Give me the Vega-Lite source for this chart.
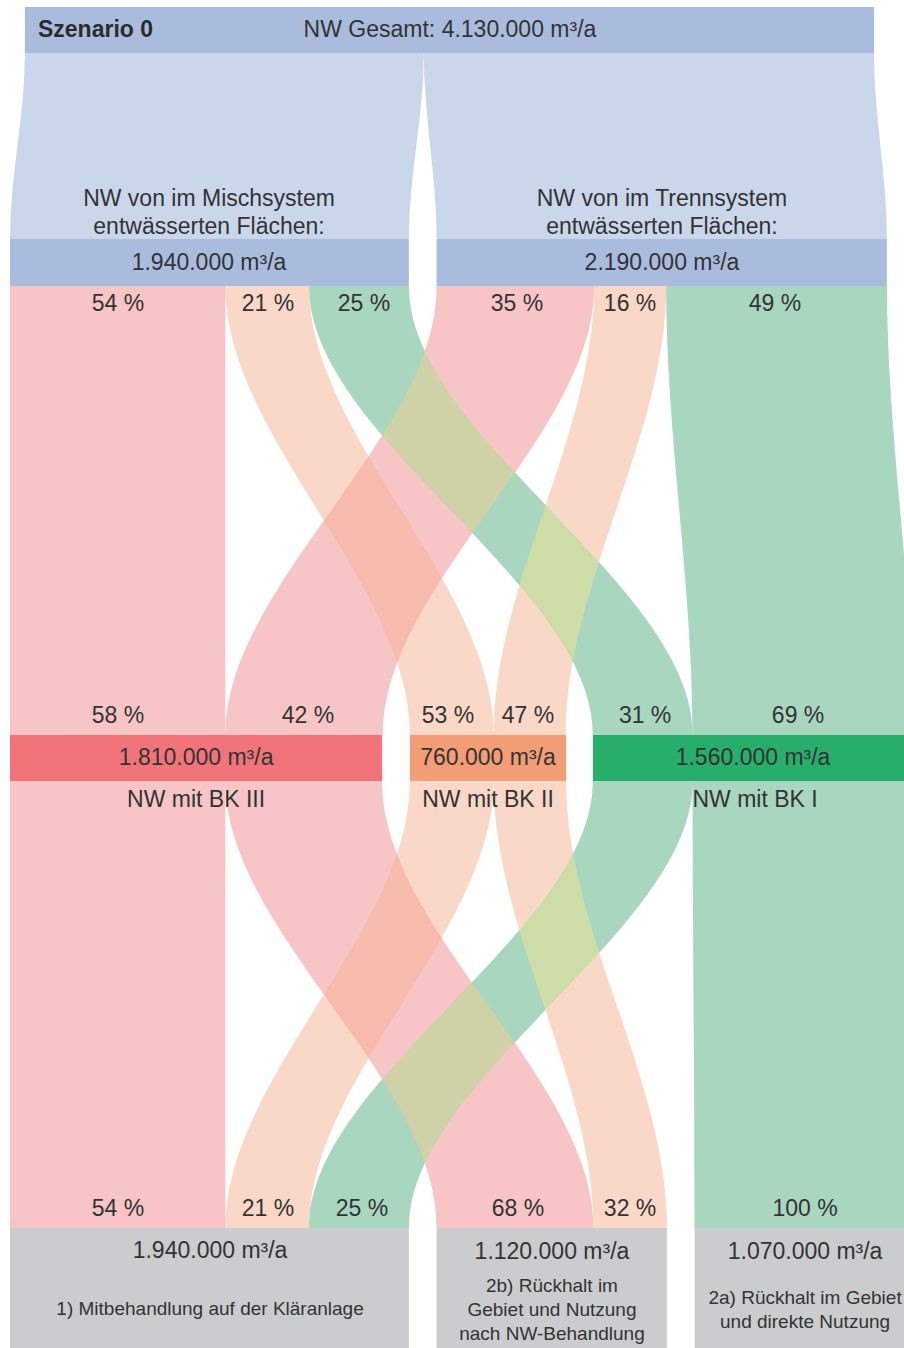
{
  "$schema": "https://vega.github.io/schema/vega-lite/v6.json",
  "width": 904,
  "height": 1348,
  "autosize": {"type": "fit", "contains": "padding"},
  "padding": 0,
  "background": "white",
  "config": {"view": {"stroke": null}},
  "datasets": {
    "zufluss": [
      {"flow": "Misch", "y": 53, "xl": 0.0725, "xr": 2.0125},
      {"flow": "Misch", "y": 54, "xl": 0.0725, "xr": 2.0125},
      {"flow": "Misch", "y": 238, "xl": 0, "xr": 1.94},
      {"flow": "Misch", "y": 239, "xl": 0, "xr": 1.94},
      {"flow": "Trenn", "y": 53, "xl": 2.0125, "xr": 4.2025},
      {"flow": "Trenn", "y": 54, "xl": 2.0125, "xr": 4.2025},
      {"flow": "Trenn", "y": 238, "xl": 2.075, "xr": 4.265},
      {"flow": "Trenn", "y": 239, "xl": 2.075, "xr": 4.265}
    ],
    "nodes": [
      {"node": "Gesamt", "kat": "blau", "x0": 0.0725, "x1": 4.2025, "y0": 7, "y1": 53},
      {"node": "Misch", "kat": "blau", "x0": 0, "x1": 1.94, "y0": 239, "y1": 286},
      {"node": "Trenn", "kat": "blau", "x0": 2.075, "x1": 4.265, "y0": 239, "y1": 286},
      {"node": "BK III", "kat": "rot", "x0": 0, "x1": 1.81, "y0": 735, "y1": 781},
      {"node": "BK II", "kat": "orange", "x0": 1.945, "x1": 2.705, "y0": 735, "y1": 781},
      {"node": "BK I", "kat": "gruen", "x0": 2.835, "x1": 4.395, "y0": 735, "y1": 781},
      {"node": "1", "kat": "grau", "x0": 0, "x1": 1.94, "y0": 1228, "y1": 1348},
      {"node": "2b", "kat": "grau", "x0": 2.075, "x1": 3.195, "y0": 1228, "y1": 1348},
      {"node": "2a", "kat": "grau", "x0": 3.33, "x1": 4.4, "y0": 1228, "y1": 1348}
    ],
    "flows": [
      {"flow": "F1", "kat": "rot", "y": 286, "xl": 0, "xr": 1.0476},
      {"flow": "F1", "kat": "rot", "y": 735, "xl": 0, "xr": 1.0476},
      {"flow": "F2", "kat": "orange", "y": 286, "xl": 1.0476, "xr": 1.455},
      {"flow": "F2", "kat": "orange", "y": 287, "xl": 1.0476, "xr": 1.455},
      {"flow": "F2", "kat": "orange", "y": 734, "xl": 1.945, "xr": 2.3524},
      {"flow": "F2", "kat": "orange", "y": 735, "xl": 1.945, "xr": 2.3524},
      {"flow": "F3", "kat": "gruen", "y": 286, "xl": 1.455, "xr": 1.94},
      {"flow": "F3", "kat": "gruen", "y": 287, "xl": 1.455, "xr": 1.94},
      {"flow": "F3", "kat": "gruen", "y": 734, "xl": 2.835, "xr": 3.32},
      {"flow": "F3", "kat": "gruen", "y": 735, "xl": 2.835, "xr": 3.32},
      {"flow": "F4", "kat": "rot", "y": 286, "xl": 2.075, "xr": 2.8415},
      {"flow": "F4", "kat": "rot", "y": 287, "xl": 2.075, "xr": 2.8415},
      {"flow": "F4", "kat": "rot", "y": 734, "xl": 1.0476, "xr": 1.8141},
      {"flow": "F4", "kat": "rot", "y": 735, "xl": 1.0476, "xr": 1.8141},
      {"flow": "F5", "kat": "orange", "y": 286, "xl": 2.8415, "xr": 3.1919},
      {"flow": "F5", "kat": "orange", "y": 287, "xl": 2.8415, "xr": 3.1919},
      {"flow": "F5", "kat": "orange", "y": 734, "xl": 2.3524, "xr": 2.7028},
      {"flow": "F5", "kat": "orange", "y": 735, "xl": 2.3524, "xr": 2.7028},
      {"flow": "F6", "kat": "gruen", "y": 286, "xl": 3.1919, "xr": 4.265},
      {"flow": "F6", "kat": "gruen", "y": 287, "xl": 3.1919, "xr": 4.265},
      {"flow": "F6", "kat": "gruen", "y": 734, "xl": 3.32, "xr": 4.3931},
      {"flow": "F6", "kat": "gruen", "y": 735, "xl": 3.32, "xr": 4.3931},
      {"flow": "G1", "kat": "rot", "y": 781, "xl": 0, "xr": 1.0476},
      {"flow": "G1", "kat": "rot", "y": 1228, "xl": 0, "xr": 1.0476},
      {"flow": "G2", "kat": "rot", "y": 781, "xl": 1.0476, "xr": 1.81},
      {"flow": "G2", "kat": "rot", "y": 782, "xl": 1.0476, "xr": 1.81},
      {"flow": "G2", "kat": "rot", "y": 1227, "xl": 2.075, "xr": 2.8374},
      {"flow": "G2", "kat": "rot", "y": 1228, "xl": 2.075, "xr": 2.8374},
      {"flow": "G3", "kat": "orange", "y": 781, "xl": 1.945, "xr": 2.3524},
      {"flow": "G3", "kat": "orange", "y": 782, "xl": 1.945, "xr": 2.3524},
      {"flow": "G3", "kat": "orange", "y": 1227, "xl": 1.0476, "xr": 1.455},
      {"flow": "G3", "kat": "orange", "y": 1228, "xl": 1.0476, "xr": 1.455},
      {"flow": "G4", "kat": "orange", "y": 781, "xl": 2.3524, "xr": 2.705},
      {"flow": "G4", "kat": "orange", "y": 782, "xl": 2.3524, "xr": 2.705},
      {"flow": "G4", "kat": "orange", "y": 1227, "xl": 2.8374, "xr": 3.1952},
      {"flow": "G4", "kat": "orange", "y": 1228, "xl": 2.8374, "xr": 3.1952},
      {"flow": "G5", "kat": "gruen", "y": 781, "xl": 2.835, "xr": 3.32},
      {"flow": "G5", "kat": "gruen", "y": 782, "xl": 2.835, "xr": 3.32},
      {"flow": "G5", "kat": "gruen", "y": 1227, "xl": 1.455, "xr": 1.94},
      {"flow": "G5", "kat": "gruen", "y": 1228, "xl": 1.455, "xr": 1.94},
      {"flow": "G6", "kat": "gruen", "y": 781, "xl": 3.32, "xr": 4.39},
      {"flow": "G6", "kat": "gruen", "y": 782, "xl": 3.32, "xr": 4.39},
      {"flow": "G6", "kat": "gruen", "y": 1227, "xl": 3.33, "xr": 4.4},
      {"flow": "G6", "kat": "gruen", "y": 1228, "xl": 3.33, "xr": 4.4}
    ],
    "labels": [
      {"t": "NW Gesamt: 4.130.000 m³/a", "x": 2.14, "y": 30},
      {"t": "NW von im Mischsystem", "x": 0.968, "y": 199},
      {"t": "entwässerten Flächen:", "x": 0.968, "y": 227},
      {"t": "NW von im Trennsystem", "x": 3.171, "y": 199},
      {"t": "entwässerten Flächen:", "x": 3.171, "y": 227},
      {"t": "1.940.000 m³/a", "x": 0.968, "y": 263},
      {"t": "2.190.000 m³/a", "x": 3.171, "y": 263},
      {"t": "54 %", "x": 0.525, "y": 304},
      {"t": "21 %", "x": 1.255, "y": 304},
      {"t": "25 %", "x": 1.722, "y": 304},
      {"t": "35 %", "x": 2.466, "y": 304},
      {"t": "16 %", "x": 3.016, "y": 304},
      {"t": "49 %", "x": 3.721, "y": 304},
      {"t": "58 %", "x": 0.525, "y": 716},
      {"t": "42 %", "x": 1.449, "y": 716},
      {"t": "53 %", "x": 2.13, "y": 716},
      {"t": "47 %", "x": 2.519, "y": 716},
      {"t": "31 %", "x": 3.089, "y": 716},
      {"t": "69 %", "x": 3.833, "y": 716},
      {"t": "1.810.000 m³/a", "x": 0.905, "y": 758},
      {"t": "760.000 m³/a", "x": 2.325, "y": 758},
      {"t": "1.560.000 m³/a", "x": 3.614, "y": 758},
      {"t": "NW mit BK III", "x": 0.905, "y": 800},
      {"t": "NW mit BK II", "x": 2.325, "y": 800},
      {"t": "NW mit BK I", "x": 3.624, "y": 800},
      {"t": "54 %", "x": 0.525, "y": 1209},
      {"t": "21 %", "x": 1.255, "y": 1209},
      {"t": "25 %", "x": 1.712, "y": 1209},
      {"t": "68 %", "x": 2.471, "y": 1209},
      {"t": "32 %", "x": 3.016, "y": 1209},
      {"t": "100 %", "x": 3.867, "y": 1209},
      {"t": "1.940.000 m³/a", "x": 0.973, "y": 1251},
      {"t": "1.120.000 m³/a", "x": 2.636, "y": 1252},
      {"t": "1.070.000 m³/a", "x": 3.867, "y": 1252}
    ],
    "labels_klein": [
      {"t": "1) Mitbehandlung auf der Kläranlage", "x": 0.973, "y": 1309},
      {"t": "2b) Rückhalt im", "x": 2.636, "y": 1286},
      {"t": "Gebiet und Nutzung", "x": 2.636, "y": 1310},
      {"t": "nach NW-Behandlung", "x": 2.636, "y": 1334},
      {"t": "2a) Rückhalt im Gebiet", "x": 3.867, "y": 1298},
      {"t": "und direkte Nutzung", "x": 3.867, "y": 1322}
    ],
    "titel": [
      {"t": "Szenario 0", "x": 0.136, "y": 30}
    ]
  },
  "layer": [
    {
      "data": {"name": "zufluss"},
      "mark": {"type": "area", "orient": "horizontal", "interpolate": "monotone", "color": "#cad7ea", "clip": true},
      "encoding": {
        "y": {"field": "y", "type": "quantitative", "scale": {"domain": [0, 1348], "reverse": true, "nice": false, "zero": false}, "axis": null},
        "x": {"field": "xl", "type": "quantitative", "stack": null, "scale": {"domain": [-0.04864, 4.34825], "nice": false, "zero": false}, "axis": null},
        "x2": {"field": "xr"},
        "detail": {"field": "flow", "type": "nominal"}
      }
    },
    {
      "data": {"name": "nodes"},
      "mark": {"type": "rect", "clip": true},
      "encoding": {
        "x": {"field": "x0", "type": "quantitative", "scale": {"domain": [-0.04864, 4.34825], "nice": false, "zero": false}, "axis": null},
        "x2": {"field": "x1"},
        "y": {"field": "y0", "type": "quantitative", "scale": {"domain": [0, 1348], "reverse": true, "nice": false, "zero": false}, "axis": null},
        "y2": {"field": "y1"},
        "color": {"field": "kat", "type": "nominal", "legend": null, "scale": {"domain": ["blau", "rot", "orange", "gruen", "grau"], "range": ["#a9bcde", "#f1747a", "#f39d76", "#27ae6b", "#cbcccd"]}}
      }
    },
    {
      "data": {"name": "flows"},
      "transform": [{"filter": "datum.kat == 'gruen'"}],
      "mark": {"type": "area", "orient": "horizontal", "interpolate": "monotone", "color": "#accdf8", "clip": true},
      "encoding": {
        "y": {"field": "y", "type": "quantitative", "scale": {"domain": [0, 1348], "reverse": true, "nice": false, "zero": false}, "axis": null},
        "x": {"field": "xl", "type": "quantitative", "stack": null, "scale": {"domain": [-0.04864, 4.34825], "nice": false, "zero": false}, "axis": null},
        "x2": {"field": "xr"},
        "detail": {"field": "flow", "type": "nominal"}
      }
    },
    {
      "data": {"name": "flows"},
      "transform": [{"filter": "datum.kat == 'orange'"}],
      "mark": {"type": "area", "orient": "horizontal", "interpolate": "monotone", "color": "#ffffff", "clip": true},
      "encoding": {
        "y": {"field": "y", "type": "quantitative", "scale": {"domain": [0, 1348], "reverse": true, "nice": false, "zero": false}, "axis": null},
        "x": {"field": "xl", "type": "quantitative", "stack": null, "scale": {"domain": [-0.04864, 4.34825], "nice": false, "zero": false}, "axis": null},
        "x2": {"field": "xr"},
        "detail": {"field": "flow", "type": "nominal"}
      }
    },
    {
      "data": {"name": "flows"},
      "transform": [{"filter": "datum.kat == 'rot'"}],
      "mark": {"type": "area", "orient": "horizontal", "interpolate": "monotone", "color": "#f8c5c6", "clip": true},
      "encoding": {
        "y": {"field": "y", "type": "quantitative", "scale": {"domain": [0, 1348], "reverse": true, "nice": false, "zero": false}, "axis": null},
        "x": {"field": "xl", "type": "quantitative", "stack": null, "scale": {"domain": [-0.04864, 4.34825], "nice": false, "zero": false}, "axis": null},
        "x2": {"field": "xr"},
        "detail": {"field": "flow", "type": "nominal"}
      }
    },
    {
      "data": {"name": "flows"},
      "transform": [{"filter": "datum.kat == 'orange'"}],
      "mark": {"type": "area", "orient": "horizontal", "interpolate": "monotone", "color": "#f3b191", "opacity": 0.5, "clip": true},
      "encoding": {
        "y": {"field": "y", "type": "quantitative", "scale": {"domain": [0, 1348], "reverse": true, "nice": false, "zero": false}, "axis": null},
        "x": {"field": "xl", "type": "quantitative", "stack": null, "scale": {"domain": [-0.04864, 4.34825], "nice": false, "zero": false}, "axis": null},
        "x2": {"field": "xr"},
        "detail": {"field": "flow", "type": "nominal"}
      }
    },
    {
      "data": {"name": "flows"},
      "transform": [{"filter": "datum.kat == 'gruen'"}],
      "mark": {"type": "area", "orient": "horizontal", "interpolate": "monotone", "color": "#a4df86", "opacity": 0.5, "clip": true},
      "encoding": {
        "y": {"field": "y", "type": "quantitative", "scale": {"domain": [0, 1348], "reverse": true, "nice": false, "zero": false}, "axis": null},
        "x": {"field": "xl", "type": "quantitative", "stack": null, "scale": {"domain": [-0.04864, 4.34825], "nice": false, "zero": false}, "axis": null},
        "x2": {"field": "xr"},
        "detail": {"field": "flow", "type": "nominal"}
      }
    },
    {
      "data": {"name": "labels"},
      "mark": {"type": "text", "font": "Liberation Sans", "fontSize": 23, "color": "#333333", "align": "center", "baseline": "middle", "clip": true},
      "encoding": {
        "x": {"field": "x", "type": "quantitative", "scale": {"domain": [-0.04864, 4.34825], "nice": false, "zero": false}, "axis": null},
        "y": {"field": "y", "type": "quantitative", "scale": {"domain": [0, 1348], "reverse": true, "nice": false, "zero": false}, "axis": null},
        "text": {"field": "t"}
      }
    },
    {
      "data": {"name": "labels_klein"},
      "mark": {"type": "text", "font": "Liberation Sans", "fontSize": 19, "color": "#333333", "align": "center", "baseline": "middle", "clip": true},
      "encoding": {
        "x": {"field": "x", "type": "quantitative", "scale": {"domain": [-0.04864, 4.34825], "nice": false, "zero": false}, "axis": null},
        "y": {"field": "y", "type": "quantitative", "scale": {"domain": [0, 1348], "reverse": true, "nice": false, "zero": false}, "axis": null},
        "text": {"field": "t"}
      }
    },
    {
      "data": {"name": "titel"},
      "mark": {"type": "text", "font": "Liberation Sans", "fontSize": 23, "fontWeight": "bold", "color": "#2b2b2b", "align": "left", "baseline": "middle", "clip": true},
      "encoding": {
        "x": {"field": "x", "type": "quantitative", "scale": {"domain": [-0.04864, 4.34825], "nice": false, "zero": false}, "axis": null},
        "y": {"field": "y", "type": "quantitative", "scale": {"domain": [0, 1348], "reverse": true, "nice": false, "zero": false}, "axis": null},
        "text": {"field": "t"}
      }
    }
  ]
}
